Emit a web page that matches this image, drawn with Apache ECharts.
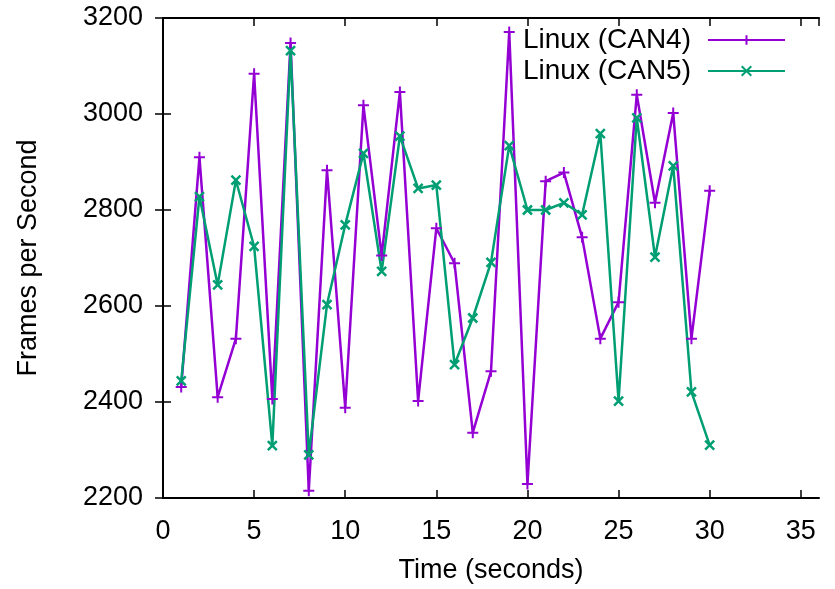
<!DOCTYPE html>
<html><head><meta charset="utf-8">
<script src="https://cdn.jsdelivr.net/npm/echarts@6/dist/echarts.min.js"></script>
<style>html,body{margin:0;padding:0;background:#fff}#c{width:835px;height:589px}</style>
</head><body><div id="c"></div>
<script>
const seconds = [1,2,3,4,5,6,7,8,9,10,11,12,13,14,15,16,17,18,19,20,21,22,23,24,25,26,27,28,29,30];
const can4 = [2431,2910,2410,2532,3084,2406,3148,2215,2883,2388,3018,2705,3046,2402,2762,2689,2336,2464,3171,2229,2860,2878,2743,2532,2608,3040,2815,3002,2532,2840];
const can5 = [2444,2828,2644,2862,2724,2309,3132,2290,2603,2769,2918,2672,2954,2845,2852,2478,2575,2691,2934,2800,2800,2815,2790,2959,2402,2992,2702,2892,2421,2310];
const seriesNames = ['Linux (CAN4)','Linux (CAN5)'];
const xTitle = 'Time (seconds)';
const yTitle = 'Frames per Second';

const purple = '#9400d3', green = '#009e73';
const plus = 'path://M0,5 L10,5 M5,0 L5,10';
const cross = 'path://M0,0 L10,10 M10,0 L0,10';
const font = 'Liberation Sans, Arial, Helvetica, sans-serif';
const FS = 27;
const pairs = a => seconds.map((s,i)=>[s,a[i]]);

const chart = echarts.init(document.getElementById('c'), null, {renderer:'canvas'});
const axisLine = {show:true, lineStyle:{color:'#000', width:2}};
const tickIn = {show:true, inside:true, length:8, lineStyle:{color:'#000', width:1.5}};
chart.setOption({
  animation:false,
  backgroundColor:'#fff',
  grid:{left:163, right:16, top:18, bottom:90, containLabel:false},
  legend:{
    orient:'vertical', right:44, top:21, align:'right',
    itemWidth:77, itemHeight:12, itemGap:3,
    textStyle:{fontFamily:font, fontSize:28, color:'#000', lineHeight:27, padding:[0,12,0,0]},
    data:seriesNames
  },
  xAxis:[{
    type:'value', min:0, max:36, interval:5, position:'bottom',
    name:xTitle, nameLocation:'middle', nameGap:59,
    nameTextStyle:{fontFamily:font, fontSize:FS, color:'#000'},
    axisLine:axisLine, axisTick:tickIn, splitLine:{show:false},
    axisLabel:{fontFamily:font, fontSize:FS, color:'#000', margin:20, showMaxLabel:false}
  },{
    type:'value', min:0, max:36, interval:5, position:'top',
    axisLine:axisLine, axisTick:tickIn, splitLine:{show:false}, axisLabel:{show:false}
  }],
  yAxis:[{
    type:'value', min:2200, max:3200, interval:200, position:'left',
    name:yTitle, nameLocation:'middle', nameGap:121,
    nameTextStyle:{fontFamily:font, fontSize:FS, color:'#000'},
    axisLine:axisLine, axisTick:tickIn, splitLine:{show:false},
    axisLabel:{fontFamily:font, fontSize:FS, color:'#000', margin:20, formatter:v=>String(v)}
  },{
    type:'value', min:2200, max:3200, interval:200, position:'right',
    axisLine:axisLine, axisTick:tickIn, splitLine:{show:false}, axisLabel:{show:false}
  }],
  series:[{
    name:seriesNames[0], type:'line', data:pairs(can4),
    symbol:plus, symbolSize:11, showSymbol:true,
    lineStyle:{color:purple, width:2.5},
    itemStyle:{color:purple, borderColor:purple, borderWidth:2}
  },{
    name:seriesNames[1], type:'line', data:pairs(can5),
    symbol:cross, symbolSize:9, showSymbol:true,
    lineStyle:{color:green, width:2.5},
    itemStyle:{color:green, borderColor:green, borderWidth:2.5}
  }]
});
</script></body></html>
